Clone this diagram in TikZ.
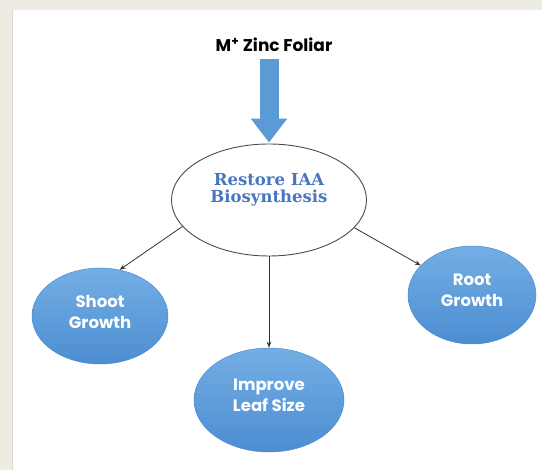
\documentclass[tikz,border=0pt]{standalone}
\usepackage{fontspec}
\usepackage{tikz}
\usetikzlibrary{shapes.geometric,arrows.meta}

\newfontfamily\headfont{Poppins}
\newfontfamily\iaafont{DejaVu Serif}

\definecolor{paper}{HTML}{EEEBE3}
\definecolor{zincblue}{HTML}{5B9BD5}
\definecolor{iaablue}{HTML}{4A76C0}
\definecolor{blobtop}{HTML}{74AEE4}
\definecolor{blobbot}{HTML}{4C8DD2}

\begin{document}
\begin{tikzpicture}[x=1pt,y=-1pt,
  blobtext/.style={text=white, align=center,
    font=\headfont\bfseries\fontsize{16.5}{21}\selectfont},
  blob/.style={ellipse, inner sep=0pt, draw=blobbot, line width=0.5pt,
    top color=blobtop, bottom color=blobbot},
  iaatext/.style={align=center, text=iaablue,
    font=\iaafont\bfseries\fontsize{16.5}{16.5}\selectfont},
  link/.style={draw=black!80, line width=0.8pt, -{Stealth[length=6pt,width=4.5pt]}},
  bigarrow/.style={draw=zincblue, line width=19pt,
    -{Triangle[width=35pt,length=24pt]}}]
\useasboundingbox (0,0) rectangle (542,470);
\fill[paper] (0,0) rectangle (542,470);
\fill[white] (12,10) rectangle (542,470);
\draw[black!15] (12,10) -- (12,470);

% title and main oval
\node[font=\headfont\bfseries\fontsize{17}{19}\selectfont] (zinc) at (274,45) {M\textsuperscript{+} Zinc Foliar};
\node[ellipse, draw=black!70, line width=0.9pt, minimum width=195pt, minimum height=112pt, inner sep=0pt,
  label={[iaatext, yshift=10pt]center:{Restore IAA\\Biosynthesis}}] (restore) at (269,200) {};
\draw[bigarrow, shorten <=4pt, shorten >=1pt] (restore.north |- zinc.south) -- (restore.north);

% effects
\node[blob, minimum width=136pt, minimum height=96pt,
  label={[blobtext, yshift=4pt]center:{Shoot\\Growth}}] (shoot) at (100,316) {};
\node[blob, minimum width=150pt, minimum height=104pt,
  label={[blobtext, yshift=5pt]center:{Improve\\Leaf Size}}] (leaf) at (269,400) {};
\node[blob, minimum width=128pt, minimum height=98pt,
  label={[blobtext, yshift=5pt]center:{Root\\Growth}}] (root) at (472,295) {};

\draw[link] (restore.197) -- (shoot.67);
\draw[link] (restore.south) -- (leaf.north);
\draw[link] (restore.342) -- (root.150);
\end{tikzpicture}
\end{document}
